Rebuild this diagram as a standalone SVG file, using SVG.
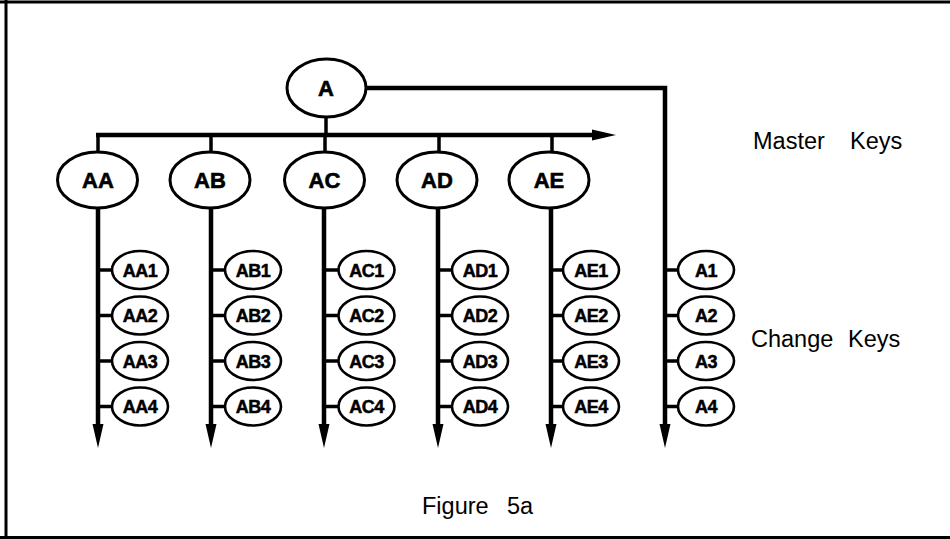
<svg xmlns="http://www.w3.org/2000/svg" width="950" height="539" viewBox="0 0 950 539">
<defs>
<style>
.ln{stroke:#000;stroke-width:4.5;fill:none}
.st{stroke:#000;stroke-width:3.5;fill:none}
.me{fill:#fff;stroke:#000;stroke-width:3}
.ce{fill:#fff;stroke:#000;stroke-width:2.6}
.ml{font-family:"Liberation Sans",Arial,sans-serif;font-weight:bold;font-size:22px;text-anchor:middle;fill:#000;stroke:#000;stroke-width:0.6}
.cl{font-family:"Liberation Sans",Arial,sans-serif;font-weight:bold;font-size:18px;text-anchor:middle;fill:#000;letter-spacing:-0.5px;stroke:#000;stroke-width:0.5}
.tx{font-family:"Liberation Sans",Arial,sans-serif;font-size:23.5px;fill:#000}
</style>
<marker id="ah" markerUnits="userSpaceOnUse" markerWidth="24" markerHeight="12" viewBox="0 0 24 12" refX="12" refY="6" orient="auto">
<path d="M0,0.5 L24,6 L0,11.5 z" fill="#000"/>
</marker>
</defs>
<rect width="950" height="539" fill="#fff"/>
<g id="frame" fill="none" stroke="#000" stroke-width="3">
<path d="M0,2 H950"/>
<path d="M6,0 V539"/>
<path d="M0,537.5 H950"/>
</g>
<g id="connectors">
<path class="ln" d="M366,88 H665 V436" marker-end="url(#ah)"/>
<path class="st" d="M326,117 V135"/>
<path class="ln" d="M96,135 H604" marker-end="url(#ah)"/>
<path class="st" d="M98,135 V152 M211,135 V152 M325,135 V152 M439,135 V152 M552,135 V152"/>
<path class="ln" d="M98,208 V436" marker-end="url(#ah)"/>
<path class="ln" d="M211,208 V436" marker-end="url(#ah)"/>
<path class="ln" d="M324,208 V436" marker-end="url(#ah)"/>
<path class="ln" d="M438,208 V436" marker-end="url(#ah)"/>
<path class="ln" d="M551,208 V436" marker-end="url(#ah)"/>
<path class="st" d="M98,270 H112 M98,315.5 H112 M98,361 H112 M98,406.5 H112"/>
<path class="st" d="M211,270 H225 M211,315.5 H225 M211,361 H225 M211,406.5 H225"/>
<path class="st" d="M324,270 H338 M324,315.5 H338 M324,361 H338 M324,406.5 H338"/>
<path class="st" d="M438,270 H452 M438,315.5 H452 M438,361 H452 M438,406.5 H452"/>
<path class="st" d="M551,270 H563 M551,315.5 H563 M551,361 H563 M551,406.5 H563"/>
<path class="st" d="M665,270 H678 M665,315.5 H678 M665,361 H678 M665,406.5 H678"/>
</g>
<g id="A"><ellipse class="me" cx="326.5" cy="88" rx="39.5" ry="29"/><text class="ml" x="326" y="96">A</text></g>
<g id="AA"><ellipse class="me" cx="97.5" cy="180" rx="40" ry="28"/><text class="ml" x="98" y="188">AA</text></g>
<g id="AB"><ellipse class="me" cx="210" cy="180" rx="40" ry="28"/><text class="ml" x="210" y="188">AB</text></g>
<g id="AC"><ellipse class="me" cx="324.5" cy="180" rx="40" ry="28"/><text class="ml" x="324.5" y="188">AC</text></g>
<g id="AD"><ellipse class="me" cx="437" cy="180" rx="40" ry="28"/><text class="ml" x="437" y="188">AD</text></g>
<g id="AE"><ellipse class="me" cx="549" cy="180" rx="40" ry="28"/><text class="ml" x="549" y="188">AE</text></g>
<g id="AA1"><ellipse class="ce" cx="140" cy="270" rx="28" ry="19"/><text class="cl" x="140" y="276.5">AA1</text></g>
<g id="AA2"><ellipse class="ce" cx="140" cy="315.5" rx="28" ry="19"/><text class="cl" x="140" y="322">AA2</text></g>
<g id="AA3"><ellipse class="ce" cx="140" cy="361" rx="28" ry="19"/><text class="cl" x="140" y="367.5">AA3</text></g>
<g id="AA4"><ellipse class="ce" cx="140" cy="406.5" rx="28" ry="19"/><text class="cl" x="140" y="413">AA4</text></g>
<g id="AB1"><ellipse class="ce" cx="253" cy="270" rx="28" ry="19"/><text class="cl" x="253" y="276.5">AB1</text></g>
<g id="AB2"><ellipse class="ce" cx="253" cy="315.5" rx="28" ry="19"/><text class="cl" x="253" y="322">AB2</text></g>
<g id="AB3"><ellipse class="ce" cx="253" cy="361" rx="28" ry="19"/><text class="cl" x="253" y="367.5">AB3</text></g>
<g id="AB4"><ellipse class="ce" cx="253" cy="406.5" rx="28" ry="19"/><text class="cl" x="253" y="413">AB4</text></g>
<g id="AC1"><ellipse class="ce" cx="366.5" cy="270" rx="28" ry="19"/><text class="cl" x="366.5" y="276.5">AC1</text></g>
<g id="AC2"><ellipse class="ce" cx="366.5" cy="315.5" rx="28" ry="19"/><text class="cl" x="366.5" y="322">AC2</text></g>
<g id="AC3"><ellipse class="ce" cx="366.5" cy="361" rx="28" ry="19"/><text class="cl" x="366.5" y="367.5">AC3</text></g>
<g id="AC4"><ellipse class="ce" cx="366.5" cy="406.5" rx="28" ry="19"/><text class="cl" x="366.5" y="413">AC4</text></g>
<g id="AD1"><ellipse class="ce" cx="480" cy="270" rx="28" ry="19"/><text class="cl" x="480" y="276.5">AD1</text></g>
<g id="AD2"><ellipse class="ce" cx="480" cy="315.5" rx="28" ry="19"/><text class="cl" x="480" y="322">AD2</text></g>
<g id="AD3"><ellipse class="ce" cx="480" cy="361" rx="28" ry="19"/><text class="cl" x="480" y="367.5">AD3</text></g>
<g id="AD4"><ellipse class="ce" cx="480" cy="406.5" rx="28" ry="19"/><text class="cl" x="480" y="413">AD4</text></g>
<g id="AE1"><ellipse class="ce" cx="591" cy="270" rx="28" ry="19"/><text class="cl" x="591" y="276.5">AE1</text></g>
<g id="AE2"><ellipse class="ce" cx="591" cy="315.5" rx="28" ry="19"/><text class="cl" x="591" y="322">AE2</text></g>
<g id="AE3"><ellipse class="ce" cx="591" cy="361" rx="28" ry="19"/><text class="cl" x="591" y="367.5">AE3</text></g>
<g id="AE4"><ellipse class="ce" cx="591" cy="406.5" rx="28" ry="19"/><text class="cl" x="591" y="413">AE4</text></g>
<g id="A1"><ellipse class="ce" cx="706" cy="270" rx="28" ry="19"/><text class="cl" x="706" y="276.5">A1</text></g>
<g id="A2"><ellipse class="ce" cx="706" cy="315.5" rx="28" ry="19"/><text class="cl" x="706" y="322">A2</text></g>
<g id="A3"><ellipse class="ce" cx="706" cy="361" rx="28" ry="19"/><text class="cl" x="706" y="367.5">A3</text></g>
<g id="A4"><ellipse class="ce" cx="706" cy="406.5" rx="28" ry="19"/><text class="cl" x="706" y="413">A4</text></g>
<g id="labels">
<text class="tx" x="753" y="149">Master</text>
<text class="tx" x="850" y="149">Keys</text>
<text class="tx" x="751" y="347">Change</text>
<text class="tx" x="848" y="347">Keys</text>
<text class="tx" x="422" y="514">Figure</text>
<text class="tx" x="507" y="514">5a</text>
</g>
</svg>
